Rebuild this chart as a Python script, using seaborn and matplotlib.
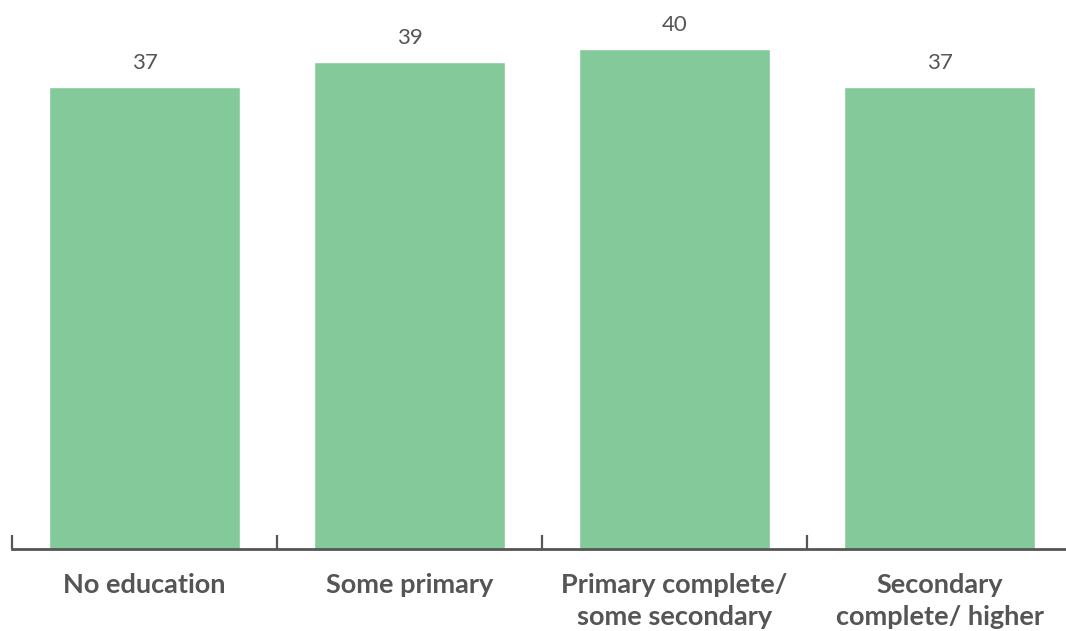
import matplotlib
matplotlib.use("Agg")
import matplotlib.pyplot as plt
import seaborn as sns
import pandas as pd
from matplotlib.ticker import FixedLocator

categories = ["No education", "Some primary", "Primary complete/\nsome secondary", "Secondary\ncomplete/ higher"]
values = [37, 39, 40, 37]

bar_color = "#84C99A"
text_color = "#555555"

sns.set_theme(style="white")
plt.rcParams["font.family"] = ["Lato", "DejaVu Sans"]

df = pd.DataFrame({"category": categories, "value": values})

fig = plt.figure(figsize=(10.66, 6.31), dpi=100)
ax = fig.add_axes([12 / 1066, 82 / 631, 1060 / 1066, 549 / 631])

sns.barplot(data=df, x="category", y="value", color=bar_color, saturation=1,
            width=0.72, ax=ax)

ax.set_xlim(-0.5, len(categories) - 0.5)
ax.set_ylim(0, 43.92)

for i, v in enumerate(values):
    ax.annotate(f"{v}", xy=(i, v), xytext=(0, 10), textcoords="offset points",
                ha="center", va="bottom", fontsize=16, color=text_color)

for side in ["top", "right", "left"]:
    ax.spines[side].set_visible(False)
ax.spines["bottom"].set_color(text_color)
ax.spines["bottom"].set_linewidth(2)

ax.set_yticks([])
ax.set_xlabel("")
ax.set_ylabel("")
ax.tick_params(axis="x", which="major", length=0, pad=17, labelsize=19.5,
               labelcolor=text_color)
for lbl in ax.get_xticklabels():
    lbl.set_fontweight("bold")
    lbl.set_linespacing(1.4)
    lbl.set_va("top")

ax.xaxis.set_minor_locator(FixedLocator([-0.5, 0.5, 1.5, 2.5, 3.5]))
ax.tick_params(axis="x", which="minor", direction="in", length=10, width=1.6,
               color=text_color, bottom=True)

fig.savefig("out.png", dpi=100)
